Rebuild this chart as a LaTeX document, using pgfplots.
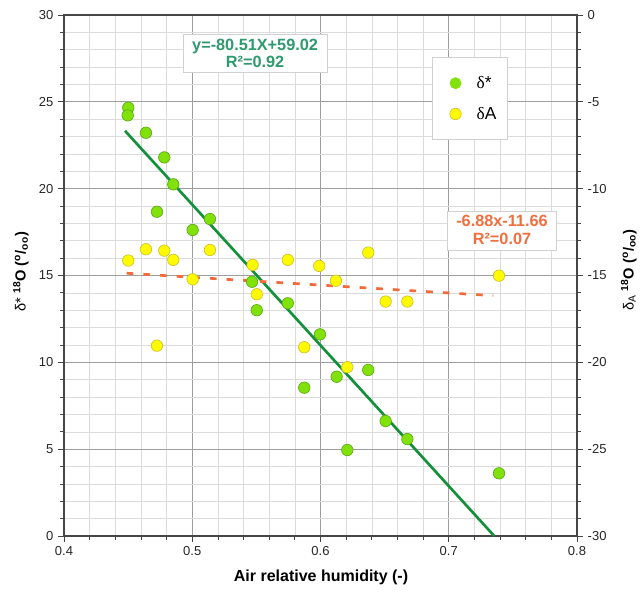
\documentclass[border=0pt]{standalone}
\usepackage{fontspec}
\setmainfont{Liberation Sans}
\newfontfamily\serifgr{Liberation Serif}
\usepackage{pgfplots}
\pgfplotsset{compat=1.18}
\definecolor{gfill}{RGB}{128,226,10}
\definecolor{gdraw}{RGB}{92,170,20}
\definecolor{yfill}{RGB}{255,250,0}
\definecolor{ydraw}{RGB}{205,195,40}
\definecolor{gline}{RGB}{18,145,58}
\definecolor{oline}{RGB}{242,106,58}
\definecolor{gtext}{RGB}{46,154,110}
\definecolor{otext}{RGB}{238,112,64}
\definecolor{axisgray}{RGB}{70,70,70}

\pgfplotstableread{
x y
0.4501 24.66
0.4497 24.22
0.4639 23.22
0.4782 21.80
0.4852 20.25
0.4725 18.67
0.5003 17.62
0.5138 18.25
0.5466 14.64
0.5503 13.00
0.5745 13.40
0.5996 11.61
0.5873 8.54
0.6126 9.17
0.6209 4.95
0.6372 9.56
0.6508 6.62
0.6677 5.58
0.7392 3.61
}\dstar

\pgfplotstableread{
x y
0.4501 -14.14
0.4639 -13.49
0.4725 -19.04
0.4782 -13.57
0.4852 -14.10
0.5003 -15.22
0.5138 -13.53
0.5471 -14.39
0.5503 -16.08
0.5745 -14.10
0.5873 -19.13
0.5990 -14.45
0.6120 -15.30
0.6209 -20.28
0.6372 -13.68
0.6508 -16.50
0.6677 -16.50
0.7392 -15.01
}\dA

\pgfplotsset{
  myaxis/.style={
    scale only axis, width=384.75pt, height=390.75pt,
    xmin=0.4, xmax=0.8,
    tick align=outside,
    major tick length=4.5pt, minor tick length=3pt,
    axis line style={draw=axisgray, line width=0.8pt},
    every tick/.style={draw=axisgray, line width=0.6pt},
    tick label style={font=\fontsize{9.75}{11}\selectfont, text=black!85},
    /pgf/number format/assume math mode=true,
  }
}

\begin{document}
\begin{tikzpicture}
% axis 1: left scale, grid, green regression
\begin{axis}[myaxis,
  ymin=0, ymax=30,
  xtick={0.4,0.5,0.6,0.7,0.8},
  xticklabels={0.4,0.5,0.6,0.7,0.8},
  minor x tick num=4,
  ytick={0,5,10,15,20,25,30},
  minor y tick num=4,
  xtick pos=bottom, ytick pos=left,
  grid=both,
  major grid style={draw=black!38, line width=0.5pt},
  minor grid style={draw=black!14, line width=0.45pt},
  xlabel={\textbf{Air relative humidity (-)}},
  every axis x label/.style={at={(axis description cs:0.501,-0.079)}, anchor=center, font=\fontsize{12}{14}\selectfont},
  ylabel={δ* \textsuperscript{\textbf{18}}\textbf{O (\textsuperscript{o}/\textsubscript{oo})}},
  every axis y label/.style={at={(axis description cs:-0.084,0.507)}, anchor=center, rotate=90, font=\fontsize{11}{13}\selectfont},
]
\addplot[gline, line width=2pt] coordinates {(0.4476,23.33) (0.7355,0)};
\end{axis}

% axis 2: right scale, yellow data, orange regression, legend
\begin{axis}[myaxis,
  ymin=-30, ymax=0,
  axis x line=none,
  axis y line*=right,
  ytick={-30,-25,-20,-15,-10,-5,0},
  minor y tick num=4,
  ylabel={δ\textsubscript{A} \textsuperscript{\textbf{18}}\textbf{O (\textsuperscript{o}/\textsubscript{oo})}},
  every axis y label/.style={at={(axis description cs:1.101,0.51)}, anchor=center, rotate=90, font=\fontsize{11}{13}\selectfont},
  legend style={at={(rel axis cs:0.717,0.919)}, anchor=north west,
    draw=black!18, fill=white, inner xsep=6pt, inner ysep=12pt,
    font=\fontsize{13}{15}\selectfont, row sep=8.5pt,
    /tikz/every odd column/.append style={column sep=8pt}},
  legend cell align=left,
  legend image code/.code={\path (0cm,0cm) (0.6cm,0cm); \draw[#1] plot coordinates {(0.4cm,0cm)};},
]
\addlegendimage{only marks, mark=*, mark size=4.2pt, mark options={fill=gfill, draw=gfill, line width=0.4pt}}
\addlegendentry{{\serifgr δ}*}
\addplot[forget plot, oline, line width=2pt, dash pattern=on 5pt off 7.5pt] coordinates {(0.4489,-14.87) (0.7347,-16.16)};
\addplot[only marks, mark=*, mark size=4.3pt, mark options={fill=yfill, draw=ydraw, line width=0.5pt}] table {\dA};
\addlegendentry{{\serifgr δ}A}
\end{axis}

% axis 3: green data on the left scale, annotations
\begin{axis}[myaxis, ymin=0, ymax=30, hide axis, clip=false]
\addplot[only marks, mark=*, mark size=4.3pt, mark options={fill=gfill, draw=gdraw, line width=0.5pt}] table {\dstar};
\node[draw=black!18, fill=white, text=gtext, align=center, inner xsep=7pt, inner ysep=3.5pt,
  font=\bfseries\fontsize{12.2}{12.5}\selectfont] at (axis cs:0.549,27.8) {y=-80.51X+59.02\\R²=0.92};
\node[draw=black!18, fill=white, text=otext, align=center, inner xsep=6.5pt, inner ysep=3.5pt,
  font=\bfseries\fontsize{12.2}{13.5}\selectfont] at (axis cs:0.7415,17.6) {-6.88x-11.66\\R²=0.07};
\end{axis}

\pgfresetboundingbox
\useasboundingbox (-48pt,-42pt) rectangle (432.75pt,402pt);
\end{tikzpicture}
\end{document}
